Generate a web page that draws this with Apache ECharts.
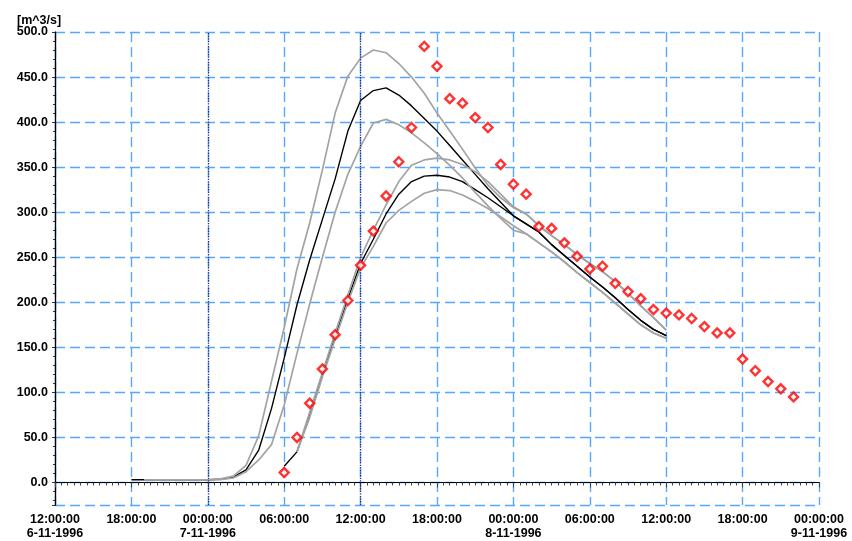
<!DOCTYPE html>
<html><head><meta charset="utf-8">
<script src="https://cdn.jsdelivr.net/npm/echarts@6/dist/echarts.min.js"></script>
<style>html,body{margin:0;padding:0;background:#fff}#c{width:852px;height:541px}</style>
</head><body><div id="c"></div>
<script>
// ---- axis settings ----
const axisStart = '1996-11-06 12:00';
const axisEnd = '1996-11-09 00:00';
const xTickStepHours = 6;
const dataStepHours = 1;
const yAxisName = '[m^3/s]';
const markerTimes = ['1996-11-07 00:00', '1996-11-07 12:00'];

// ---- simulation A (hourly) ----
const simABlackStart = '1996-11-06 18:00';
const simABlack = [3,3,3,3,3,3,
  3,3.5,6,14,36,82,138,197,247,292,337,390,424,435,438,430,418,404,390,374,358,342,326,311,
  296,287,278,264,252,240,228,217,205,192,180,170,163];
const simAGreyStart = '1996-11-06 19:00';
const simAUpper = [3,3,3,3,3,
  3,4,7,19,52,112,172,237,288,347,410,451,471,480,477,465,450,432,410,390,370,349,330,316,
  305,298,285,274,264,253,243,234,223,210,196,183,169];
const simALower = [3,3,3,3,3,
  3,3,5,12,25,42,86,143,198,250,300,342,373,399,403,397,388,377,365,352,338,322,307,293,
  280,276,266,256,245,233,222,211,199,187,175,166,160];

// ---- simulation B (hourly) ----
const simBBlackStart = '1996-11-07 06:00';
const simBBlack = [18,34,75,120,162,204,243,270,298,320,334,340,341,339,334,325,316,306,
  296,287,278,264,252,240,228,217,205,192,180,170,163];
const simBGreyStart = '1996-11-07 07:00';
const simBUpper = [34,78,122,166,208,250,280,308,334,352,358,360,358,353,345,334,320,
  306,298,285,274,264,253,243,234,223,210,196,183,169];
const simBLower = [34,72,117,159,200,238,262,288,302,312,321,325,324,319,312,304,295,
  285,276,266,256,245,233,222,211,199,187,175,166,160];

// ---- observations (hourly) ----
const obsStart = '1996-11-07 06:00';
const obsValues = [11,50,88,126,164,202,241,279,318,356,394,484,462,426,421,405,394,353,
  331,320,284,282,266,251,237,240,221,212,204,192,188,186,182,173,166,166,137,124,112,104,95];

function parseTime(s){
  const [d,t] = s.split(' ');
  const [Y,M,D] = d.split('-').map(Number);
  const [h,m] = t.split(':').map(Number);
  return Date.UTC(Y,M-1,D,h,m);
}
const base = parseTime(axisStart);
function toHours(s){ return (parseTime(s)-base)/3600000; }
function build(start, arr){
  const h0 = toHours(start);
  return arr.map((v,i)=>[h0 + i*dataStepHours, v]);
}
function pad(n){ return (n<10?'0':'')+n; }

const FONT = "'Liberation Sans', Arial, Helvetica, sans-serif";
const FS = 12.5;
const chart = echarts.init(document.getElementById('c'));
const blackStyle = {color:'#000', width:1.4};
const greyStyle = {color:'#a3a3a3', width:1.7};
function line(name, data, style, extra){
  return Object.assign({type:'line', name, data, symbol:'none', showSymbol:false,
    lineStyle:style, itemStyle:{color:style.color}, silent:true, animation:false}, extra||{});
}
const xMax = toHours(axisEnd);
const gridBlue = '#55a8ff';

chart.setOption({
  animation:false,
  title:{text:yAxisName, left:12, top:9, textStyle:{fontFamily:FONT, fontSize:FS, fontWeight:'bold', color:'#000'}},
  grid:{left:55, right:33, top:32, bottom:35},
  xAxis:[{
    type:'value', min:0, max:xMax, interval:xTickStepHours, position:'bottom',
    axisLine:{lineStyle:{color:'#6a6a6a', width:1.2}},
    axisTick:{show:true, length:5, lineStyle:{color:'#444'}},
    minorTick:{show:true, splitNumber:12, length:3, lineStyle:{color:'#444'}},
    splitLine:{show:true, lineStyle:{color:gridBlue, type:[10,5], width:1.4}},
    axisLabel:{margin:8, showMinLabel:true, showMaxLabel:true,
      fontFamily:FONT, fontSize:FS, fontWeight:'bold', color:'#000', lineHeight:14,
      formatter:function(v){
        const d = new Date(base + v*3600000);
        const hh = d.getUTCHours();
        let s = pad(hh)+':00:00';
        if (v===0 || hh===0) s += '\n' + d.getUTCDate() + '-' + (d.getUTCMonth()+1) + '-' + d.getUTCFullYear();
        return s;
      }}
  },{
    type:'value', min:0, max:xMax, position:'top',
    axisLine:{show:true, lineStyle:{color:'#000', width:1.2}},
    axisTick:{show:false}, axisLabel:{show:false}, splitLine:{show:false}
  }],
  yAxis:[{
    type:'value', min:-25, max:500, splitNumber:10, position:'left',
    axisLine:{show:true, lineStyle:{color:'#222', width:1.2}},
    axisTick:{show:true, length:3, lineStyle:{color:'#333'}},
    minorTick:{show:true, splitNumber:5, length:2, lineStyle:{color:'#333'}},
    splitLine:{show:true, lineStyle:{color:gridBlue, type:[10,5], width:1.4}},
    axisLabel:{margin:7, fontFamily:FONT, fontSize:FS, fontWeight:'bold', color:'#000',
      formatter:function(v){ return v<0 ? '' : v.toFixed(1); }}
  },{
    type:'value', min:-25, max:500, position:'right',
    axisLine:{show:true, lineStyle:{color:'#000', width:1.2}},
    axisTick:{show:false}, axisLabel:{show:false}, splitLine:{show:false}
  }],
  series:[
    line('A', build(simABlackStart, simABlack), blackStyle, {
      markLine:{silent:true, symbol:['none','none'], label:{show:false},
        lineStyle:{color:'#2c2a78', type:'dotted', width:1.3},
        data: markerTimes.map(t=>({xAxis: toHours(t)}))}
    }),
    line('B', build(simBBlackStart, simBBlack), blackStyle),
    line('A upper', build(simAGreyStart, simAUpper), greyStyle),
    line('A lower', build(simAGreyStart, simALower), greyStyle),
    line('B upper', build(simBGreyStart, simBUpper), greyStyle),
    line('B lower', build(simBGreyStart, simBLower), greyStyle),
    {type:'scatter', name:'obs', data: build(obsStart, obsValues), symbol:'diamond', symbolSize:9,
      itemStyle:{color:'#fff', borderColor:'#ff0000', borderWidth:2.4}, z:5, silent:true, animation:false}
  ]
});
</script></body></html>
